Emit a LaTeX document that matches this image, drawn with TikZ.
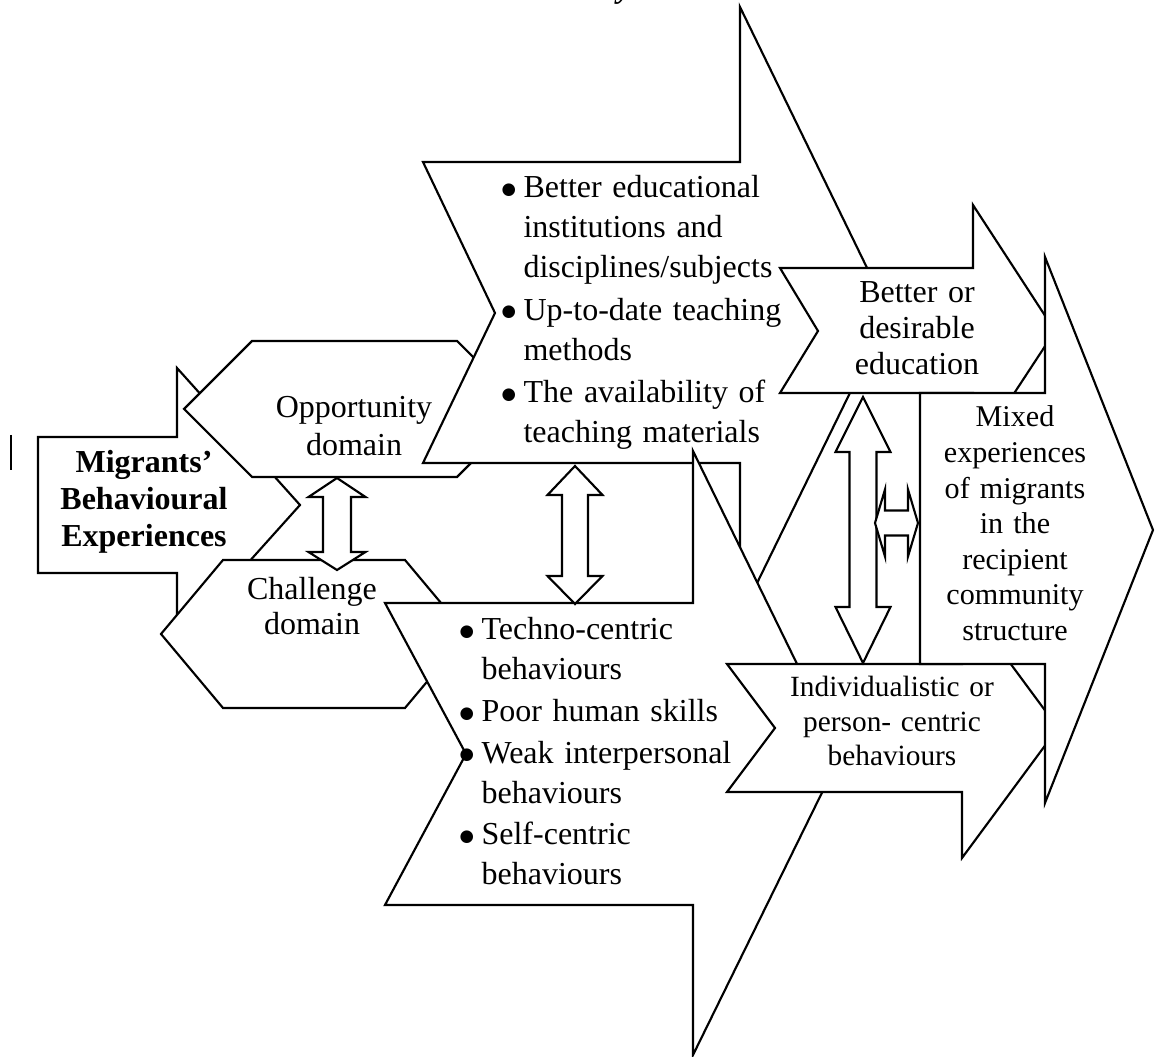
\documentclass[tikz,border=0pt]{standalone}
\usepackage{fontspec}
\setmainfont{Liberation Serif}
\newfontfamily\symfont{DejaVu Sans}

% hanging indent and bullet for the two bullet lists
\newlength\bhang
\setlength\bhang{9.4pt}
\newcommand\bulletmark{\makebox[\bhang][l]{\hspace{1.2pt}\raisebox{1.3pt}{\symfont\fontsize{6.2}{7}\selectfont ●}}}
\newcommand\bitem[1]{\hangindent=\bhang\hangafter=1\noindent\bulletmark#1\par}

\begin{document}
\begin{tikzpicture}[x=0.375pt,y=-0.375pt,
  blk/.style={draw=black,fill=white,line width=0.8pt,line join=miter},
  lbl/.style={inner sep=0pt,align=center,anchor=base},
  lst/.style={inner sep=0pt,anchor=base west,
    font=\fontsize{12}{15}\selectfont}]

\useasboundingbox (0,0) rectangle (1155,1057);
\fill[white] (0,0) rectangle (1155,1057);

% heading fragment above the frame
\node[inner sep=0pt,anchor=base west,font=\bfseries\itshape\fontsize{12}{14}\selectfont] (ttl) at (617,-2) {y};

% stray mark at the left
\draw[line width=0.8pt] (11,435) -- (11,470);

% Migrants' arrow
\draw[blk] (38,437) -- (177,437) -- (177,368) -- (300,505) -- (177,642)
  -- (177,573) -- (38,573) -- cycle;
\node[lbl,text width=72pt,font=\bfseries\fontsize{12}{13.7}\selectfont] (migr)
  at (144,473) {Migrants’\\Behavioural\\Experiences};

% opportunity hexagon
\draw[blk] (184,409) -- (252,341) -- (457,341) -- (525,409) -- (457,477)
  -- (252,477) -- cycle;
\node[lbl,text width=66pt,font=\fontsize{12}{13.9}\selectfont] (opp)
  at (354,418) {Opportunity\\domain};

% challenge hexagon
\draw[blk] (161,634) -- (223,560) -- (405,560) -- (467,634) -- (405,708)
  -- (223,708) -- cycle;
\node[lbl,text width=60pt,font=\fontsize{12}{13.1}\selectfont] (chal)
  at (312,600) {Challenge\\domain};

% upper notched arrow: opportunities
\draw[blk] (423,162) -- (740,162) -- (740,7) -- (889,313) -- (740,618)
  -- (740,463) -- (423,463) -- (495,313) -- cycle;
\node[lst,text width=110pt] (opplist) at (498,198) {%
  \setlength\parskip{0.9pt}%
  \bitem{Better educational\newline institutions and\newline disciplines/subjects}%
  \bitem{Up-to-date teaching\newline methods}%
  \bitem{The availability of\newline teaching materials}};

% lower notched arrow: challenges
\draw[blk] (385,603) -- (693,603) -- (693,451) -- (841,754) -- (693,1055)
  -- (693,905) -- (385,905) -- (466,754) -- cycle;
\node[lst,text width=106pt] (challist) at (456,640) {%
  \setlength\parskip{0.6pt}%
  \bitem{Techno-centric\newline behaviours}%
  \bitem{Poor human skills}%
  \bitem{Weak interpersonal\newline behaviours}%
  \bitem{Self-centric\newline behaviours}};

% double arrow between the two domains
\draw[blk] (337,478) -- (365.5,497) -- (351,497) -- (351,552) -- (365.5,552)
  -- (337,570) -- (308.5,552) -- (323,552) -- (323,497) -- (308.5,497) -- cycle;

% double arrow between the two lists
\draw[blk] (575,466) -- (602.5,495) -- (588,495) -- (588,576) -- (602.5,576)
  -- (575,604) -- (547.5,576) -- (562,576) -- (562,495) -- (547.5,495) -- cycle;

% better education arrow
\draw[blk] (780,268) -- (973,268) -- (973,205) -- (1055,331) -- (973,456)
  -- (973,393) -- (780,393) -- (818,331) -- cycle;
\node[lbl,text width=52pt,font=\fontsize{12}{13.5}\selectfont] (edu)
  at (917,303) {Better or\\desirable\\education};

% individualistic arrow
\draw[blk] (727,664) -- (962,664) -- (962,598) -- (1058,728) -- (962,858)
  -- (962,792) -- (727,792) -- (775,728) -- cycle;
\node[lbl,text width=80pt,font=\fontsize{11}{12.8}\selectfont] (indiv)
  at (892,697) {Individualistic or\\person- centric\\behaviours};

% mixed experiences arrow
\draw[blk] (920,393) -- (1045,393) -- (1045,257) -- (1153,530) -- (1045,803)
  -- (1045,664) -- (920,664) -- cycle;
\node[lbl,text width=58pt,font=\fontsize{11.3}{13.33}\selectfont] (mixed)
  at (1015,427) {Mixed\\experiences\\of migrants\\in the\\recipient\\community\\structure};

% vertical double arrow between education and behaviours
\draw[blk] (863,397) -- (890.5,452) -- (876.5,452) -- (876.5,607) -- (890.5,607)
  -- (863,663) -- (835.5,607) -- (849.5,607) -- (849.5,452) -- (835.5,452) -- cycle;

% small horizontal double arrow towards the mixed experiences
\draw[blk] (875,523) -- (885,489.5) -- (885,510.5) -- (908,510.5) -- (908,489.5)
  -- (918,523) -- (908,556.5) -- (908,535.5) -- (885,535.5) -- (885,556.5) -- cycle;

\end{tikzpicture}
\end{document}
